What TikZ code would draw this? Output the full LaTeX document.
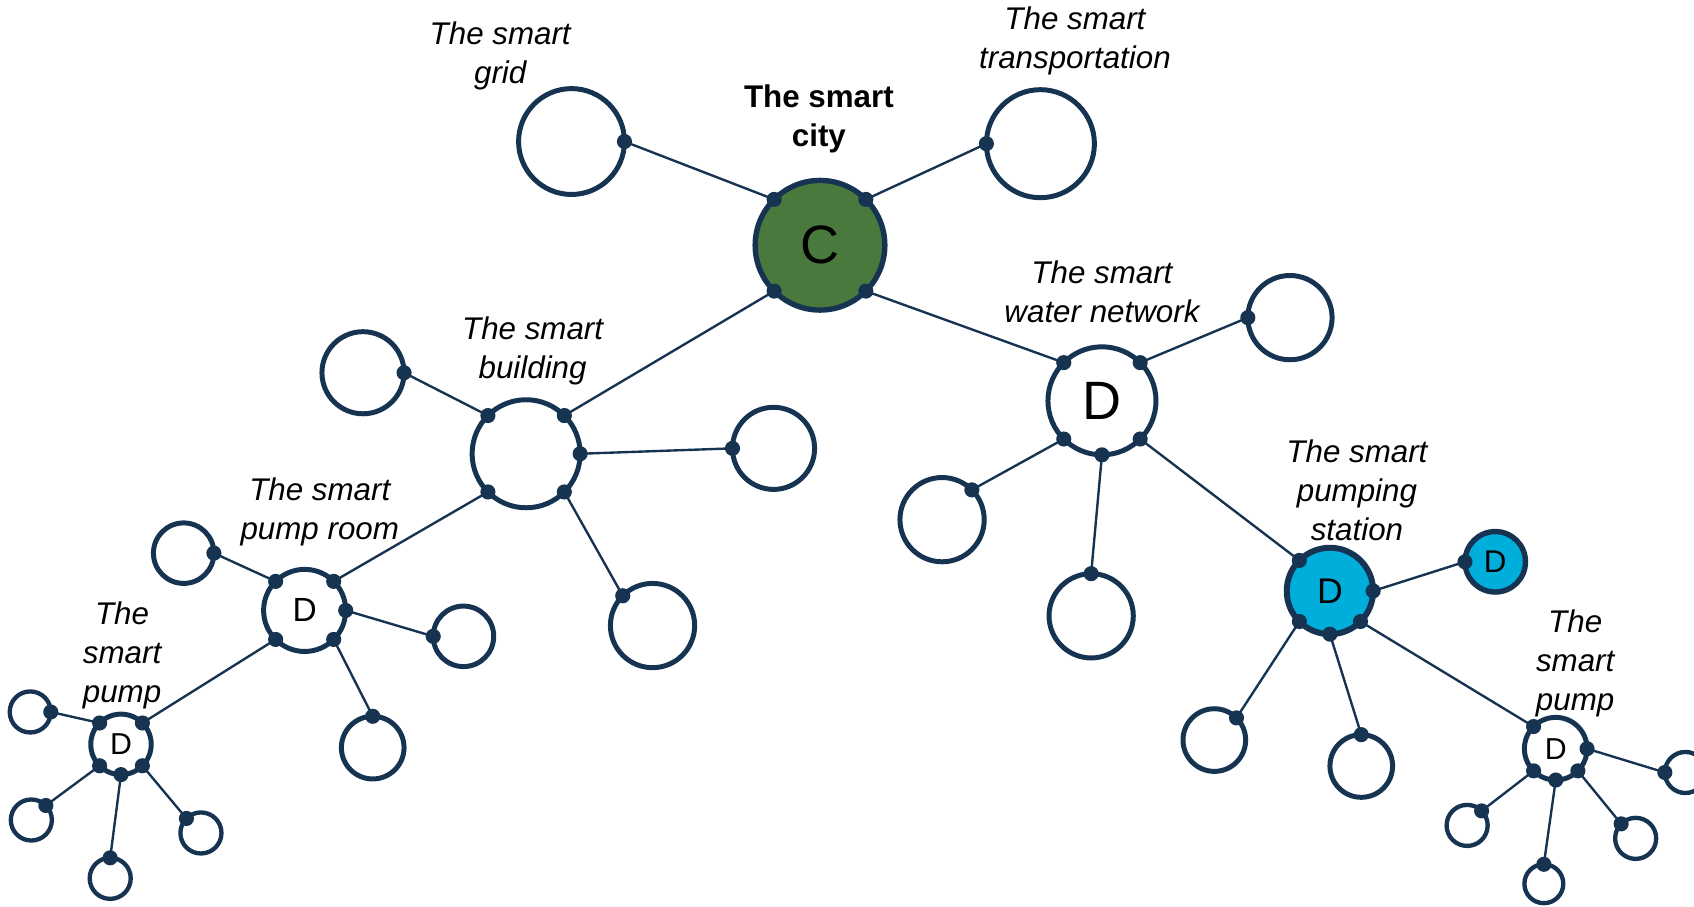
\documentclass[tikz,border=0pt]{standalone}
\usepackage{fontspec}
\setmainfont{Liberation Sans}
\definecolor{navy}{RGB}{22,52,82}
\definecolor{cgreen}{RGB}{74,121,61}
\definecolor{cblue}{RGB}{0,174,219}
\newcommand\lnk[2]{\draw[conn] (#1) -- (#2); \fill[navy] (#1) circle (7pt); \fill[navy] (#2) circle (7pt);}
\begin{document}
\begin{tikzpicture}[x=1pt,y=-1pt,
  ring/.style={circle,draw=navy,line width=4.6pt,fill=white,inner sep=0pt,outer sep=0pt,minimum size=#1},
  conn/.style={draw=navy,line width=2.2pt},
  lab/.style={align=center,font=\itshape\fontsize{29}{36}\selectfont,inner sep=0pt},
  big/.style={font=\fontsize{#1}{#1}\selectfont}]
\useasboundingbox (0,0) rectangle (1568,839);
% nodes
\node[ring=120,fill=cgreen,line width=5pt,big=50] (city) at (759,227) {C};
\node[ring=98] (grid) at (529,131) {};
\node[ring=100] (trans) at (963,133) {};
\node[ring=100,big=50] (water) at (1020,371) {D};
\node[ring=78] (wa) at (1194,294) {};
\node[ring=78] (wb) at (872,481) {};
\node[ring=78] (wc) at (1010,570) {};
\node[ring=80,fill=cblue,line width=5.5pt,big=33] (pstat) at (1231,547) {D};
\node[ring=56,fill=cblue,line width=5pt,big=29] (pblue) at (1384,520) {D};
\node[ring=58] (pa) at (1124,685) {};
\node[ring=58] (pb) at (1260,709) {};
\node[ring=58,big=28] (rpump) at (1440,693) {D};
\node[ring=38,line width=4pt] (ra) at (1560,715) {};
\node[ring=38,line width=4pt] (rb) at (1358,764) {};
\node[ring=36,line width=4pt] (rc) at (1429,818) {};
\node[ring=38,line width=4pt] (rd) at (1514,776) {};
\node[ring=100] (bldg) at (487,420) {};
\node[ring=76] (ba) at (336,345) {};
\node[ring=76] (bb) at (716,415) {};
\node[ring=78] (bc) at (604,579) {};
\node[ring=76,big=31] (proom) at (282,565) {D};
\node[ring=56] (qa) at (170,512) {};
\node[ring=56] (qb) at (429,589) {};
\node[ring=58] (qc) at (345,692) {};
\node[ring=56,big=28] (lpump) at (112,689) {D};
\node[ring=38,line width=4pt] (la) at (28,659) {};
\node[ring=38,line width=4pt] (lb) at (29,759) {};
\node[ring=38,line width=4pt] (lc) at (102,813) {};
\node[ring=38,line width=4pt] (ld) at (186,771) {};
% links
\lnk{city.135}{grid.0}
\lnk{city.45}{trans.180}
\lnk{city.-45}{water.135}
\lnk{water.45}{wa.180}
\lnk{water.-135}{wb.45}
\lnk{water.-90}{wc.90}
\lnk{water.-45}{pstat.135}
\lnk{pstat.0}{pblue.180}
\lnk{pstat.-135}{pa.45}
\lnk{pstat.-90}{pb.90}
\lnk{pstat.-45}{rpump.135}
\lnk{rpump.0}{ra.180}
\lnk{rpump.-135}{rb.45}
\lnk{rpump.-90}{rc.90}
\lnk{rpump.-45}{rd.135}
\lnk{city.-135}{bldg.45}
\lnk{bldg.135}{ba.0}
\lnk{bldg.0}{bb.180}
\lnk{bldg.-45}{bc.135}
\lnk{bldg.-135}{proom.45}
\lnk{proom.135}{qa.0}
\lnk{proom.0}{qb.180}
\lnk{proom.-45}{qc.90}
\lnk{proom.-135}{lpump.45}
\lnk{lpump.135}{la.0}
\lnk{lpump.-135}{lb.45}
\lnk{lpump.-90}{lc.90}
\lnk{lpump.-45}{ld.135}
% labels
\node[lab] (tgrid) at (463,52) {The smart\\grid};
\node[lab,font=\bfseries\fontsize{29}{36}\selectfont] (tcity) at (758,110) {The smart\\city};
\node[lab] (ttrans) at (995,38) {The smart\\transportation};
\node[lab] (twater) at (1020,270) {The smart\\water network};
\node[lab] (tbldg) at (493,325) {The smart\\building};
\node[lab] (troom) at (296,474) {The smart\\pump room};
\node[lab] (tlpump) at (113,607) {The\\smart\\pump};
\node[lab] (tstat) at (1256,454) {The smart\\pumping\\station};
\node[lab] (trpump) at (1458,614) {The\\smart\\pump};
\end{tikzpicture}
\end{document}
